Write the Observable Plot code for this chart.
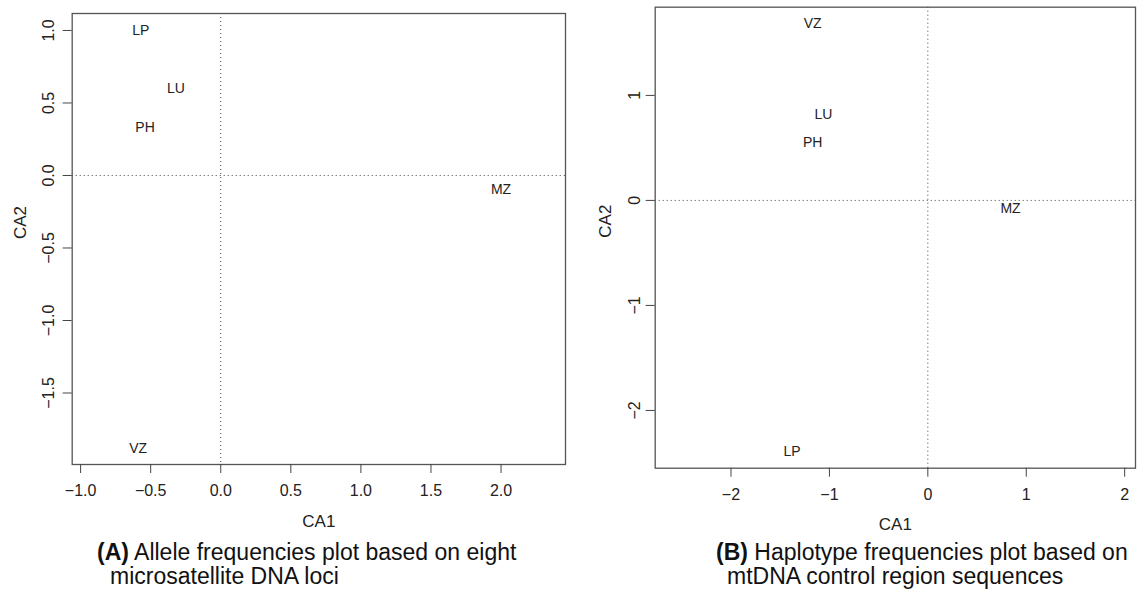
<!DOCTYPE html>
<html><head><meta charset="utf-8">
<script src="https://cdn.jsdelivr.net/npm/d3@7"></script>
<script src="https://cdn.jsdelivr.net/npm/@observablehq/plot@0.6"></script>
<style>
body{margin:0;background:#fff;font-family:"Liberation Sans",Arial,Helvetica,sans-serif;}
#wrap{position:relative;width:1138px;height:602px;overflow:hidden;background:#fff;}
.panel{position:absolute;top:0;}
.cap{position:absolute;font-size:23px;line-height:24px;color:#111;white-space:nowrap;}
</style></head><body>
<div id="wrap">
  <div id="pA" class="panel" style="left:0px"></div>
  <div id="pB" class="panel" style="left:580px"></div>
  <div id="capA1" class="cap" style="left:97px;top:540px"></div>
  <div id="capA2" class="cap" style="left:110px;top:564px"></div>
  <div id="capB1" class="cap" style="left:716px;top:540px"></div>
  <div id="capB2" class="cap" style="left:727px;top:564px"></div>
</div>
<script>
// ---- data ----
const populations = ["LP", "LU", "PH", "MZ", "VZ"];
// (A) allele frequencies, microsatellite loci
const alleleCA1 = [-0.57, -0.32, -0.54, 2.00, -0.59];
const alleleCA2 = [1.00, 0.60, 0.33, -0.10, -1.88];
// (B) haplotype frequencies, mtDNA control region
const haploCA1 = [-1.38, -1.06, -1.17, 0.84, -1.17];
const haploCA2 = [-2.39, 0.82, 0.555, -0.08, 1.68];
// ticks
const alleleXTicks = [-1.0, -0.5, 0.0, 0.5, 1.0, 1.5, 2.0];
const alleleYTicks = [-1.5, -1.0, -0.5, 0.0, 0.5, 1.0];
const haploXTicks = [-2, -1, 0, 1, 2];
const haploYTicks = [-2, -1, 0, 1];
// texts
const xTitle = "CA1", yTitle = "CA2";
const captionA = ["(A)", " Allele frequencies plot based on eight", "microsatellite DNA loci"];
const captionB = ["(B)", " Haplotype frequencies plot based on", "mtDNA control region sequences"];

const FONT = '"Liberation Sans", Arial, Helvetica, sans-serif';

function panel(cfg) {
  const data = populations.map((p, i) => ({pop: p, x: cfg.xs[i], y: cfg.ys[i]}));
  return Plot.plot({
    width: cfg.width, height: 535,
    marginLeft: cfg.ml, marginRight: cfg.mr, marginTop: cfg.mt, marginBottom: cfg.mb,
    style: {fontFamily: FONT, fontSize: "16px", color: "#222", background: "white", overflow: "visible"},
    x: {domain: cfg.xd, axis: null},
    y: {domain: cfg.yd, axis: null},
    marks: [
      Plot.ruleX([0], {stroke: "#444", strokeDasharray: "1,3", strokeWidth: 1}),
      Plot.ruleY([0], {stroke: "#444", strokeDasharray: "1,3", strokeWidth: 1}),
      Plot.frame({stroke: "#555", strokeWidth: 1.3}),
      Plot.axisX(cfg.xt, {tickSize: 9, tickPadding: 11, tickFormat: cfg.fmt, label: null, fontSize: 16, stroke: "#444"}),
      Plot.axisY(cfg.yt, {tickSize: 9, tickPadding: cfg.ypad, tickRotate: -90, tickFormat: cfg.fmt, label: null, fontSize: 16, stroke: "#444"}),
      Plot.text(data, {x: "x", y: "y", text: "pop", fontSize: 14, fill: "#222"}),
      Plot.text([xTitle], {text: d => d, frameAnchor: "bottom", dy: 62, fontSize: 17, fill: "#222"}),
      Plot.text([yTitle], {text: d => d, frameAnchor: "left", dx: cfg.ydx, rotate: -90, fontSize: 17, fill: "#222"})
    ]
  });
}

document.getElementById("pA").append(panel({
  width: 575, ml: 71.7, mr: 10, mt: 13, mb: 71,
  xd: [-1.06, 2.46], yd: [-1.993, 1.117],
  xs: alleleCA1, ys: alleleCA2, xt: alleleXTicks, yt: alleleYTicks,
  fmt: d3.format(".1f"), ydx: -52, ypad: 9
}));
document.getElementById("pB").append(panel({
  width: 558, ml: 74.7, mr: 3, mt: 6.7, mb: 67.3,
  xd: [-2.77, 2.11], yd: [-2.55, 1.84],
  xs: haploCA1, ys: haploCA2, xt: haploXTicks, yt: haploYTicks,
  fmt: d3.format("d"), ydx: -50, ypad: 6
}));

function setCap(id1, id2, c) {
  const a = document.getElementById(id1);
  const b = document.createElement("b"); b.textContent = c[0];
  a.append(b, document.createTextNode(c[1]));
  document.getElementById(id2).textContent = c[2];
}
setCap("capA1", "capA2", captionA);
setCap("capB1", "capB2", captionB);
</script>
</body></html>
